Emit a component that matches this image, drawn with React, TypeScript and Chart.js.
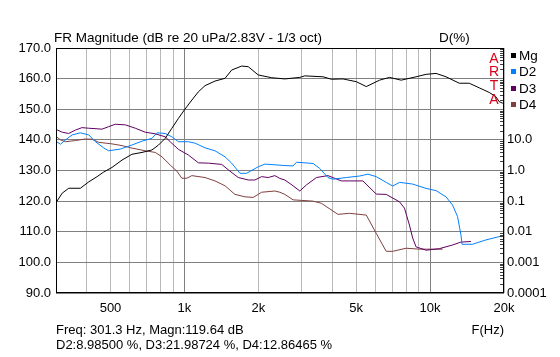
import React, { useEffect, useRef } from 'react';
import { Chart, registerables } from 'chart.js';

Chart.register(...registerables);

const FONT = '"Liberation Sans", Arial, sans-serif';

// Magnitude (dB)
const mgFreq = [300, 318, 338, 377, 408, 441, 469, 507, 557, 611, 672, 737, 784, 835, 889, 945, 1000, 1072, 1140, 1213, 1332, 1463, 1557, 1710, 1819, 1997, 2263, 2563, 2949, 3090, 3665, 3965, 4419, 5009, 5500, 6227, 6836, 7625, 8773, 9634, 10578, 11612, 13152, 14438, 15852, 17408, 18533, 19111, 19712, 20000];
const mgDb = [119.5, 122.6, 124.2, 124.2, 126.3, 128.0, 129.5, 131.0, 133.4, 135.3, 135.9, 136.7, 138.3, 140.5, 143.8, 147.0, 149.8, 153.0, 155.7, 157.7, 159.2, 160.1, 162.8, 164.1, 163.9, 161.2, 160.3, 159.9, 160.4, 160.9, 160.6, 159.8, 159.9, 159.0, 157.4, 159.5, 160.4, 159.5, 160.6, 161.4, 161.7, 160.6, 158.5, 158.5, 157.0, 155.5, 154.1, 152.5, 152.0, 151.8];

// Distortion (%)
const d2Freq = [300, 313, 328, 349, 377, 408, 434, 469, 491, 548, 611, 672, 737, 773, 835, 889, 945, 1038, 1105, 1213, 1332, 1463, 1557, 1683, 1791, 1997, 2126, 2563, 2770, 2859, 3338, 3553, 3840, 4024, 4561, 5167, 5582, 6037, 6628, 7050, 7506, 8499, 9634, 10578, 11612, 12353, 12942, 13360, 13488, 14890, 16879, 20000];
const d2Pct = [9.0, 7.2, 10.0, 14.5, 17.0, 14.5, 8.7, 5.5, 4.4, 5.0, 6.8, 9.1, 11.2, 17.0, 16.2, 12.6, 8.7, 8.7, 7.8, 5.5, 4.4, 2.8, 1.74, 0.81, 0.81, 1.32, 1.62, 1.45, 1.41, 1.86, 1.70, 1.17, 0.59, 0.52, 0.59, 0.66, 0.76, 0.63, 0.41, 0.31, 0.41, 0.36, 0.26, 0.22, 0.138, 0.074, 0.031, 0.0078, 0.0039, 0.0039, 0.0054, 0.0076];

const d3Freq = [300, 318, 338, 360, 383, 408, 462, 491, 523, 575, 631, 693, 760, 835, 875, 945, 1038, 1140, 1251, 1418, 1509, 1606, 1657, 1819, 1936, 2062, 2193, 2334, 2446, 2563, 2770, 2949, 3139, 3446, 3840, 4353, 5327, 6037, 6628, 7506, 7865, 8241, 8499, 8773, 9634, 10907, 12353, 13360, 14668];
const d3Pct = [22.0, 17.8, 16.2, 20.9, 25.1, 24.0, 22.4, 26.9, 32.4, 30.9, 24.0, 17.8, 15.8, 12.6, 8.7, 4.9, 3.2, 1.78, 1.74, 1.58, 1.05, 0.71, 0.59, 0.49, 0.49, 0.63, 0.59, 0.68, 0.55, 0.49, 0.316, 0.214, 0.339, 0.59, 0.68, 0.457, 0.457, 0.17, 0.166, 0.095, 0.059, 0.0166, 0.0062, 0.0032, 0.0025, 0.0028, 0.0037, 0.0046, 0.0048];

const d4Freq = [300, 313, 328, 360, 395, 421, 448, 507, 557, 611, 693, 760, 810, 875, 932, 976, 1023, 1072, 1213, 1332, 1463, 1606, 1764, 1905, 2062, 2334, 2446, 2563, 2770, 3338, 3611, 4217, 4704, 5500, 6037, 6628, 7050, 7991, 9049, 11250];
const d4Pct = [12.9, 10.0, 8.7, 9.5, 10.7, 10.5, 8.3, 7.4, 6.5, 5.4, 4.4, 3.9, 2.8, 1.51, 0.95, 0.56, 0.56, 0.68, 0.59, 0.457, 0.316, 0.166, 0.138, 0.132, 0.195, 0.214, 0.195, 0.166, 0.11, 0.1, 0.085, 0.037, 0.040, 0.035, 0.0089, 0.0023, 0.0023, 0.0029, 0.0027, 0.0027];

const seriesNames = ['Mg', 'D2', 'D3', 'D4'];
const seriesColors = ['#000000', '#0080ff', '#600060', '#804040'];

// Axes
const xGridValues = [300, 400, 500, 600, 700, 800, 900, 1000, 2000, 3000, 4000, 5000, 6000, 7000, 8000, 9000, 10000, 20000];
const xMajorValues = [1000, 10000];
const xLabelValues = [500, 1000, 2000, 5000, 10000, 20000];
const xLabelTexts = ['500', '1k', '2k', '5k', '10k', '20k'];
const yTickValues = [90, 100, 110, 120, 130, 140, 150, 160, 170];
const y2TickValues = [0.0001, 0.001, 0.01, 0.1, 1, 10, 100, 1000, 10000];
const y2TickLabels = ['0.0001', '0.001', '0.01', '0.1', '1.0', '10.0', '', '', ''];

const titleText = 'FR Magnitude (dB re 20 uPa/2.83V - 1/3 oct)';
const rightTitle = 'D(%)';
const xTitle = 'F(Hz)';
const infoLine1 = 'Freq: 301.3 Hz, Magn:119.64 dB';
const infoLine2 = 'D2:8.98500 %, D3:21.98724 %, D4:12.86465 %';
const brand = ['A', 'R', 'T', 'A'];

const toPts = (f: number[], v: number[]) => f.map((x, i) => ({ x, y: v[i] }));

const decorPlugin = {
  id: 'decor',
  afterDraw(chart: any) {
    const ctx = chart.ctx as CanvasRenderingContext2D;
    const { left, right, top, bottom } = chart.chartArea;
    const y2 = chart.scales.y2;
    ctx.save();
    // minor ticks on right axis (inside)
    ctx.strokeStyle = '#404040';
    ctx.lineWidth = 1;
    ctx.beginPath();
    for (let k = -4; k < 4; k++) {
      for (let m = 2; m <= 9; m++) {
        const py = Math.round(y2.getPixelForValue(m * Math.pow(10, k))) + 0.5;
        ctx.moveTo(right - 4, py);
        ctx.lineTo(right, py);
      }
    }
    ctx.stroke();
    // border
    ctx.strokeStyle = '#000';
    ctx.strokeRect(left + 0.5, top + 0.5, right - left - 1, bottom - top - 1);

    // ARTA brand
    ctx.fillStyle = '#d80018';
    ctx.font = `14px ${FONT}`;
    ctx.textAlign = 'center';
    ctx.textBaseline = 'middle';
    brand.forEach((c, i) => ctx.fillText(c, 494, 59 + i * 13.6));

    ctx.fillStyle = '#000';
    ctx.textAlign = 'left';
    ctx.font = `13.5px ${FONT}`;
    ctx.fillText(titleText, 54, 38);
    ctx.fillText(rightTitle, 439, 38);

    // legend
    seriesNames.forEach((n, i) => {
      const cy = 56 + i * 16.4;
      ctx.fillStyle = seriesColors[i];
      ctx.fillRect(511, Math.round(cy) - 3, 5, 5);
      ctx.fillStyle = '#000';
      ctx.fillText(n, 519, cy);
    });

    ctx.font = `13px ${FONT}`;
    ctx.fillText(infoLine1, 56, 330);
    ctx.fillText(infoLine2, 56, 345);
    ctx.textAlign = 'right';
    ctx.fillText(xTitle, 504, 330);
    ctx.restore();
  },
};

export default function App() {
  const ref = useRef<HTMLCanvasElement>(null);
  useEffect(() => {
    const canvas = ref.current!;
    const chart = new Chart(canvas, {
      type: 'line',
      data: {
        datasets: [
          { label: 'Mg', data: toPts(mgFreq, mgDb), yAxisID: 'y', borderColor: seriesColors[0] },
          { label: 'D2', data: toPts(d2Freq, d2Pct), yAxisID: 'y2', borderColor: seriesColors[1] },
          { label: 'D3', data: toPts(d3Freq, d3Pct), yAxisID: 'y2', borderColor: seriesColors[2] },
          { label: 'D4', data: toPts(d4Freq, d4Pct), yAxisID: 'y2', borderColor: seriesColors[3] },
        ],
      },
      options: {
        animation: false,
        responsive: false,
        devicePixelRatio: 1,
        layout: { padding: { top: 48, left: 0, right: 0, bottom: 0 } },
        elements: { point: { radius: 0 }, line: { borderWidth: 1, tension: 0 } },
        plugins: { legend: { display: false }, tooltip: { enabled: false }, title: { display: false } },
        scales: {
          x: {
            type: 'logarithmic',
            position: 'bottom',
            min: 300,
            max: 20000,
            afterBuildTicks: (s: any) => { s.ticks = xGridValues.map((v) => ({ value: v })); },
            afterFit: (s: any) => { s.height = 64; },
            grid: {
              drawTicks: false,
              lineWidth: 1,
              color: (c: any) => (xMajorValues.includes(c.tick?.value) ? '#808080' : '#b8b8b8'),
            },
            border: { display: false },
            ticks: {
              autoSkip: false,
              maxRotation: 0,
              padding: 8,
              color: '#000',
              font: { family: FONT, size: 13 },
              callback: (v: any) => {
                const i = xLabelValues.indexOf(Number(v));
                return i >= 0 ? xLabelTexts[i] : '';
              },
            },
          },
          y: {
            type: 'linear',
            position: 'left',
            min: 90,
            max: 170,
            afterBuildTicks: (s: any) => { s.ticks = yTickValues.map((v) => ({ value: v })); },
            afterFit: (s: any) => { s.width = 56; },
            grid: { drawTicks: false, color: '#808080', lineWidth: 1 },
            border: { display: false },
            ticks: {
              padding: 5,
              color: '#000',
              font: { family: FONT, size: 13 },
              callback: (v: any) => Number(v).toFixed(1),
            },
          },
          y2: {
            type: 'logarithmic',
            position: 'right',
            min: 0.0001,
            max: 10000,
            afterBuildTicks: (s: any) => { s.ticks = y2TickValues.map((v) => ({ value: v })); },
            afterFit: (s: any) => { s.width = 56; },
            grid: { display: false, drawOnChartArea: false, drawTicks: false },
            border: { display: false },
            ticks: {
              padding: 3,
              color: '#000',
              font: { family: FONT, size: 13 },
              callback: (_v: any, i: number) => y2TickLabels[i] ?? '',
            },
          },
        },
      },
      plugins: [decorPlugin],
    } as any);
    return () => chart.destroy();
  }, []);
  return (
    <div style={{ position: 'absolute', left: 0, top: 0, width: 560, height: 357, background: '#fff' }}>
      <canvas ref={ref} width={560} height={357} style={{ display: 'block', width: 560, height: 357 }} />
    </div>
  );
}
